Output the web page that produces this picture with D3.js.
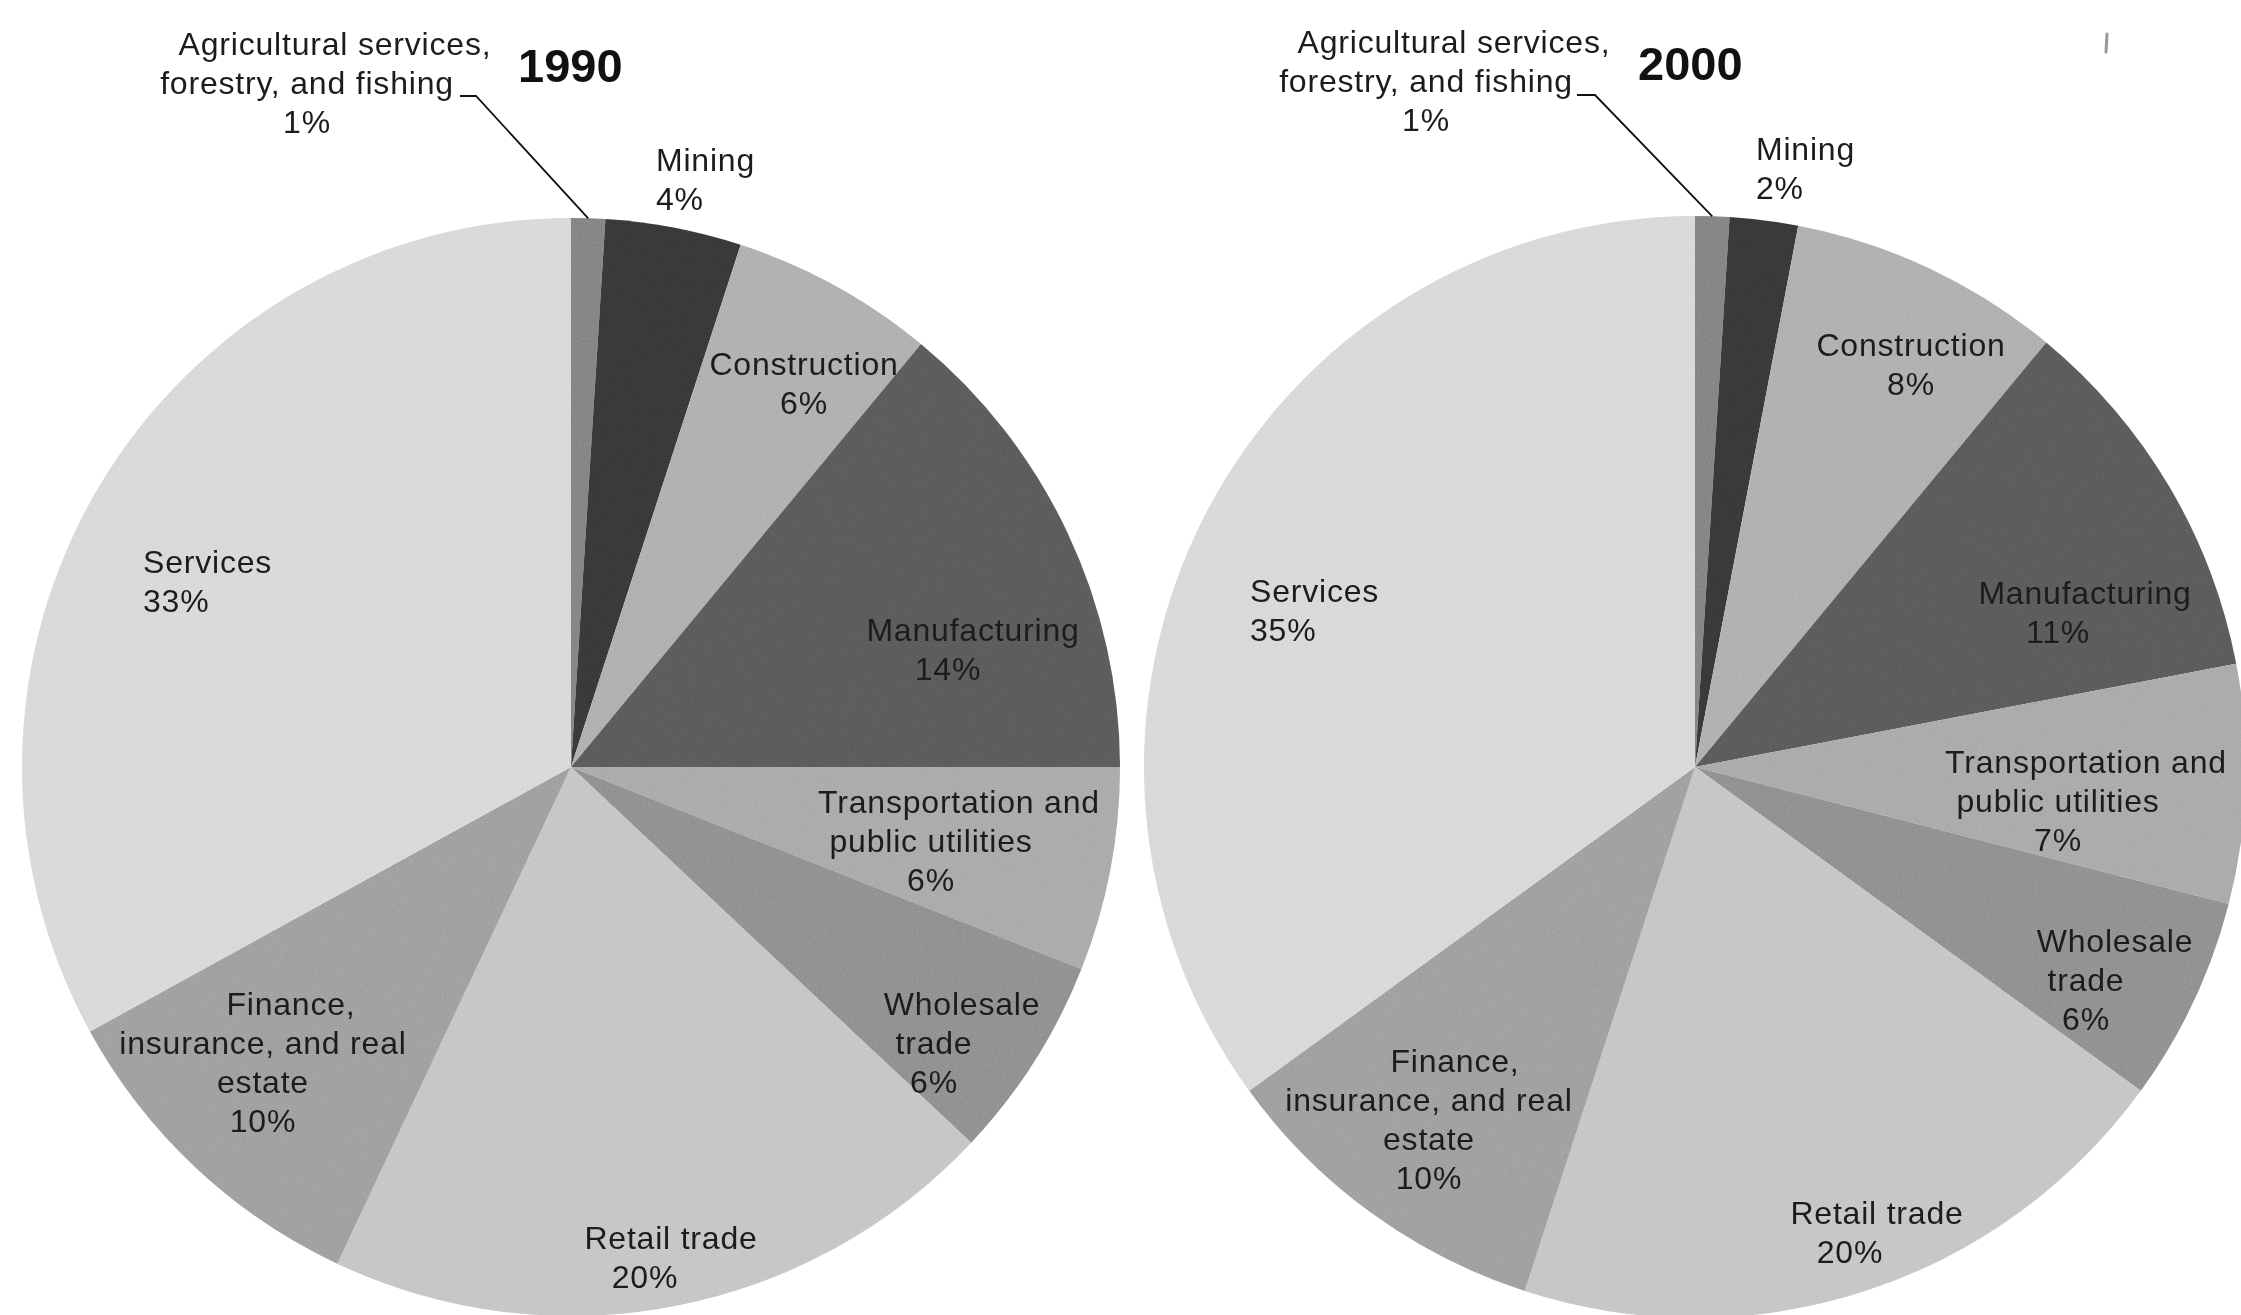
<!DOCTYPE html>
<html>
<head>
<meta charset="utf-8">
<script src="https://cdn.jsdelivr.net/npm/d3@7"></script>
<style>
  html, body { margin: 0; padding: 0; background: #fff; }
  svg { display: block; }
  text { font-family: "Liberation Sans", Arial, sans-serif; }
</style>
</head>
<body>
<div id="chart"></div>
<script>
// === Data ===
const categories = [
  ['Agricultural services,', 'forestry, and fishing'],
  ['Mining'],
  ['Construction'],
  ['Manufacturing'],
  ['Transportation and', 'public utilities'],
  ['Wholesale', 'trade'],
  ['Retail trade'],
  ['Finance,', 'insurance, and real', 'estate'],
  ['Services']
];
const years = ['1990', '2000'];
const values1990 = [1, 4, 6, 14, 6, 6, 20, 10, 33];
const values2000 = [1, 2, 8, 11, 7, 6, 20, 10, 35];
const sliceColors = ['#7e7e7e', '#363636', '#acacac', '#575757', '#a6a6a6', '#8b8b8b', '#c3c3c3', '#9b9b9b', '#d7d7d7'];

// === Layout (label placement, px) ===
const W = 2241, H = 1315;
const FONT = 32, LINE = 39;
const pies = [
  { cx: 571, cy: 767, r: 549, title: { x: 518, y: 82 }, leader: [460, 96, 476, 96],
    labels: [
      { x: 307, y: 44, a: 'middle', s: 28 },
      { x: 656, y: 160, a: 'start', s: 0 },
      { x: 804, y: 364, a: 'middle', s: 0 },
      { x: 948, y: 630, a: 'middle', s: 25 },
      { x: 931, y: 802, a: 'middle', s: 28 },
      { x: 934, y: 1004, a: 'middle', s: 28 },
      { x: 645, y: 1238, a: 'middle', s: 26 },
      { x: 263, y: 1004, a: 'middle', s: 28 },
      { x: 143, y: 562, a: 'start', s: 0 }
    ] },
  { cx: 1695, cy: 767, r: 551, title: { x: 1638, y: 80 }, leader: [1577, 95, 1595, 95],
    labels: [
      { x: 1426, y: 42, a: 'middle', s: 28 },
      { x: 1756, y: 149, a: 'start', s: 0 },
      { x: 1911, y: 345, a: 'middle', s: 0 },
      { x: 2058, y: 593, a: 'middle', s: 27 },
      { x: 2058, y: 762, a: 'middle', s: 28 },
      { x: 2086, y: 941, a: 'middle', s: 29 },
      { x: 1850, y: 1213, a: 'middle', s: 27 },
      { x: 1429, y: 1061, a: 'middle', s: 26 },
      { x: 1250, y: 591, a: 'start', s: 0 }
    ] }
];

const svg = d3.select('#chart').append('svg')
  .attr('width', W).attr('height', H)
  .attr('viewBox', `0 0 ${W} ${H}`);

// scanned-print grain
const defs = svg.append('defs');
const grain = defs.append('filter').attr('id', 'grain')
  .attr('x', 0).attr('y', 0).attr('width', 1).attr('height', 1);
grain.append('feTurbulence')
  .attr('type', 'fractalNoise').attr('baseFrequency', 0.85)
  .attr('numOctaves', 2).attr('seed', 3).attr('result', 'noise');
grain.append('feColorMatrix').attr('in', 'noise').attr('type', 'saturate').attr('values', 0);

const pie = d3.pie().sort(null).value(d => d);
const seriesList = [values1990, values2000];

pies.forEach((p, k) => {
  const values = seriesList[k];
  const total = d3.sum(values);
  const arcs = pie(values);
  const arc = d3.arc().innerRadius(0).outerRadius(p.r);

  const g = svg.append('g').attr('transform', `translate(${p.cx},${p.cy})`);
  g.selectAll('path')
    .data(arcs)
    .join('path')
    .attr('d', arc)
    .attr('fill', (d, i) => sliceColors[i]);

  // grain overlay clipped to the pie disc
  const clipId = 'disc' + k;
  defs.append('clipPath').attr('id', clipId)
    .append('circle').attr('cx', 0).attr('cy', 0).attr('r', p.r);
  g.append('rect')
    .attr('x', -p.r).attr('y', -p.r)
    .attr('width', 2 * p.r).attr('height', 2 * p.r)
    .attr('clip-path', `url(#${clipId})`)
    .attr('filter', 'url(#grain)')
    .style('mix-blend-mode', 'overlay')
    .attr('opacity', 0.3);

  // Leader line for the tiny first slice
  const a0 = arcs[0];
  const mid = (a0.startAngle + a0.endAngle) / 2;
  const ex = p.cx + Math.sin(mid) * p.r;
  const ey = p.cy - Math.cos(mid) * p.r;
  svg.append('polyline')
    .attr('points', `${p.leader[0]},${p.leader[1]} ${p.leader[2]},${p.leader[3]} ${ex},${ey}`)
    .attr('fill', 'none')
    .attr('stroke', '#111')
    .attr('stroke-width', 1.8);

  // Labels
  arcs.forEach((d, i) => {
    const L = p.labels[i];
    const lines = categories[i].concat([Math.round(d.value / total * 100) + '%']);
    const t = svg.append('text')
      .attr('text-anchor', L.a)
      .attr('font-size', FONT)
      .attr('letter-spacing', 0.8)
      .attr('fill', '#1c1c1c');
    lines.forEach((ln, j) => {
      t.append('tspan')
        .attr('x', L.x + (j === 0 ? L.s : 0))
        .attr('y', L.y + j * LINE + FONT * 0.35)
        .text(ln);
    });
  });

  // Year title
  svg.append('text')
    .attr('x', p.title.x).attr('y', p.title.y)
    .attr('font-size', 47)
    .attr('font-weight', 'bold')
    .attr('fill', '#111')
    .text(years[k]);
});

// small scan mark at top right
svg.append('line')
  .attr('x1', 2107).attr('y1', 34).attr('x2', 2106).attr('y2', 52)
  .attr('stroke', '#999').attr('stroke-width', 3).attr('stroke-linecap', 'round');
</script>
</body>
</html>
